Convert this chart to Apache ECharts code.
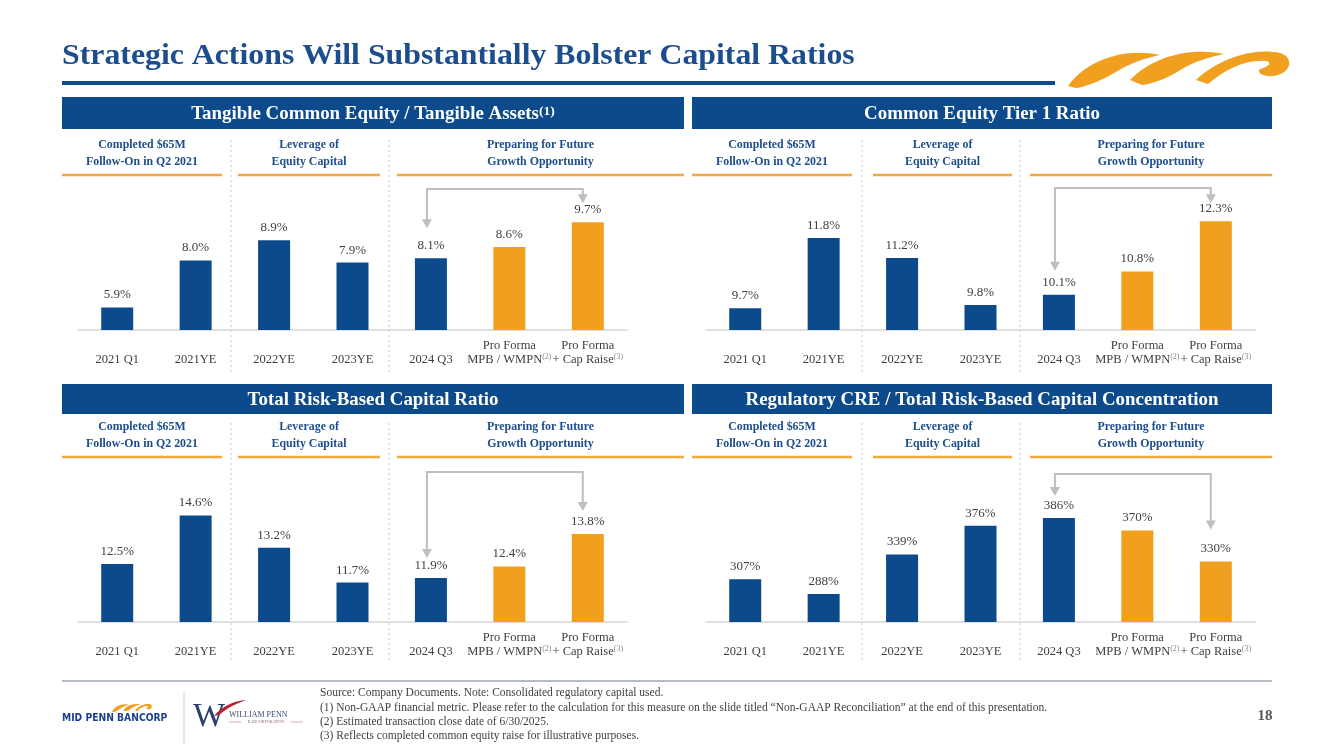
<!DOCTYPE html>
<html><head><meta charset="utf-8">
<script src="https://cdn.jsdelivr.net/npm/echarts@6/dist/echarts.min.js"></script>
<style>html,body{margin:0;padding:0;background:#fff}#c{width:1333px;height:749px}</style>
</head><body><div id="c"></div><script>
// ---------- data ----------
const categories = ['2021 Q1', '2021YE', '2022YE', '2023YE', '2024 Q3', 'Pro Forma\nMPB / WMPN', 'Pro Forma\n+ Cap Raise'];
const categorySup = ['', '', '', '', '', '(2)', '(3)'];
const tceValues = [5.9, 8.0, 8.9, 7.9, 8.1, 8.6, 9.7];
const cet1Values = [9.7, 11.8, 11.2, 9.8, 10.1, 10.8, 12.3];
const trbcValues = [12.5, 14.6, 13.2, 11.7, 11.9, 12.4, 13.8];
const creValues = [307, 288, 339, 376, 386, 370, 330];
const panelTitles = ['Tangible Common Equity / Tangible Assets', 'Common Equity Tier 1 Ratio', 'Total Risk-Based Capital Ratio', 'Regulatory CRE / Total Risk-Based Capital Concentration'];
const panelTitleSup = ['(1)', '', '', ''];
const phaseTitles = [['Completed $65M', 'Follow-On in Q2 2021'], ['Leverage of', 'Equity Capital'], ['Preparing for Future', 'Growth Opportunity']];
const pageTitle = 'Strategic Actions Will Substantially Bolster Capital Ratios';
const footnotes = [
  'Source: Company Documents. Note: Consolidated regulatory capital used.',
  '(1) Non-GAAP financial metric. Please refer to the calculation for this measure on the slide titled \u201cNon-GAAP Reconciliation\u201d at the end of this presentation.',
  '(2) Estimated transaction close date of 6/30/2025.',
  '(3) Reflects completed common equity raise for illustrative purposes.'
];
const pageNumber = '18';

// ---------- styles ----------
const NAVY = '#0D4A8C', ORANGE = '#F0A01E', TITLE = '#1C4E8D', GRAY = '#BFBFBF', TXT = '#3F3F3F';
const SERIF = '"Liberation Serif", "DejaVu Serif", serif';
const seriesValues = [tceValues, cet1Values, trbcValues, creValues];
const isPct = [true, true, true, false];

const grids = [
  {left: 78, top: 193, width: 549, height: 137},
  {left: 706, top: 191, width: 549, height: 139},
  {left: 78, top: 483, width: 549, height: 139},
  {left: 706, top: 484, width: 549, height: 138}
];
const yRanges = [[4.9, 11], [9.05, 13.2], [10, 16], [252, 430]];

const swooshPaths = [
  'M0,39 C18,14 55,0 92,8 C78,11 62,16 48,25 C32,34 18,40 8,41 Z',
  'M62,33 C85,10 120,0 156,7 C142,10 127,14 114,22 C100,31 85,37 74,38 Z',
  'M128,33 C150,12 185,0 212,6 C226,10 224,26 206,29 C196,30 188,26 192,22 C200,20 205,16 198,14 C178,12 158,22 140,37 Z'
];
const featherPath = 'M0,16 C8,6 20,1 32,0 C24,3 14,7 5,15 Z';
let shapeOK = true;
try {
  swooshPaths.forEach((d, i) => echarts.graphic.registerShape('swoosh' + i, echarts.graphic.extendPath(d)));
  echarts.graphic.registerShape('feather', echarts.graphic.extendPath(featherPath));
} catch (e) { shapeOK = false; }

const chart = echarts.init(document.getElementById('c'), null, {renderer: 'canvas'});

const xAxes = grids.map((g, i) => ({
  type: 'category', gridIndex: i, data: categories,
  axisLine: {lineStyle: {color: '#D6D6D6', width: 1.5}},
  axisTick: {show: false},
  axisLabel: {
    interval: 0, hideOverlap: false, fontFamily: SERIF, fontSize: 12.5, color: TXT,
    lineHeight: 14, verticalAlign: 'bottom', margin: 37, align: 'center',
    formatter: (v, idx) => v + (categorySup[idx] ? '{s|' + categorySup[idx] + '}' : ''),
    rich: {s: {fontSize: 8, color: '#8C8C8C', verticalAlign: 'top', lineHeight: 14, fontFamily: SERIF}}
  }
}));
const yAxes = grids.map((g, i) => ({type: 'value', gridIndex: i, min: yRanges[i][0], max: yRanges[i][1], show: false, splitLine: {show: false}}));
const series = seriesValues.map((vals, i) => ({
  type: 'bar', xAxisIndex: i, yAxisIndex: i, barWidth: 32,
  data: vals.map((v, k) => ({value: v, itemStyle: {color: k >= 5 ? ORANGE : NAVY}})),
  label: {show: true, position: 'top', distance: 6, fontFamily: SERIF, fontSize: 13, color: TXT,
    formatter: p => (isPct[i] ? p.value.toFixed(1) : String(p.value)) + '%'}
}));

// ---------- static graphics ----------
const G = [];
G.push({type: 'text', x: 62, y: 56, scaleX: 1.06, style: {text: pageTitle, font: 'bold 30px ' + SERIF, fill: TITLE, textVerticalAlign: 'middle'}});
G.push({type: 'rect', shape: {x: 62, y: 81, width: 993, height: 4}, style: {fill: NAVY}});
function swoosh(fill) {
  if (!shapeOK) return [];
  return swooshPaths.map((d, i) => ({type: 'swoosh' + i, shape: {}, style: {fill: fill}}));
}
G.push({type: 'group', x: 1068, y: 47, children: swoosh(ORANGE)});

const panels = [
  {x: 62, w: 622, bannerY: 97, bannerH: 32, subY: 143, lineY: 175, divTop: 140, divBot: 372,
   subs: [[62, 222], [238, 380], [397, 684]], divs: [231, 389]},
  {x: 692, w: 580, bannerY: 97, bannerH: 32, subY: 143, lineY: 175, divTop: 140, divBot: 372,
   subs: [[692, 852], [873, 1012], [1030, 1272]], divs: [862, 1020]},
  {x: 62, w: 622, bannerY: 384, bannerH: 30, subY: 425, lineY: 457, divTop: 423, divBot: 662,
   subs: [[62, 222], [238, 380], [397, 684]], divs: [231, 389]},
  {x: 692, w: 580, bannerY: 384, bannerH: 30, subY: 425, lineY: 457, divTop: 423, divBot: 662,
   subs: [[692, 852], [873, 1012], [1030, 1272]], divs: [862, 1020]}
];
panels.forEach((p, i) => {
  G.push({type: 'rect', shape: {x: p.x, y: p.bannerY, width: p.w, height: p.bannerH}, style: {fill: NAVY}});
  G.push({type: 'text', x: p.x + p.w / 2, y: p.bannerY + p.bannerH / 2 + 1, scaleX: 1.05, style: {
    text: panelTitles[i] + (panelTitleSup[i] ? '{s|' + panelTitleSup[i] + '}' : ''),
    font: 'bold 18px ' + SERIF, fill: '#fff', textAlign: 'center', textVerticalAlign: 'middle',
    rich: {s: {fontSize: 13, fontWeight: 'bold', fill: '#fff', fontFamily: SERIF, verticalAlign: 'top'}}}});
  p.subs.forEach((s, k) => {
    const cx = (s[0] + s[1]) / 2;
    G.push({type: 'text', x: cx, y: p.subY + 2, scaleX: 0.88, style: {text: phaseTitles[k][0], font: 'bold 13.5px ' + SERIF, fill: TITLE, textAlign: 'center', textVerticalAlign: 'middle'}});
    G.push({type: 'text', x: cx, y: p.subY + 19, scaleX: 0.88, style: {text: phaseTitles[k][1], font: 'bold 13.5px ' + SERIF, fill: TITLE, textAlign: 'center', textVerticalAlign: 'middle'}});
    G.push({type: 'line', shape: {x1: s[0], y1: p.lineY, x2: s[1], y2: p.lineY}, style: {stroke: '#F2A93B', lineWidth: 2.5}});
  });
  p.divs.forEach(dx => {
    G.push({type: 'line', shape: {x1: dx, y1: p.divTop, x2: dx, y2: p.divBot}, style: {stroke: '#C8C8C8', lineWidth: 1, lineDash: [2, 3]}});
  });
});

// footer
G.push({type: 'line', shape: {x1: 62, y1: 681, x2: 1272, y2: 681}, style: {stroke: '#6F7C8C', lineWidth: 1.2}});
G.push({type: 'group', x: 112, y: 703, scaleX: 0.18, scaleY: 0.22, children: swoosh(ORANGE)});
G.push({type: 'text', x: 62, y: 718, scaleX: 0.92, style: {text: 'MID PENN BANCORP', font: 'bold 10px "DejaVu Sans", sans-serif', fill: '#1D3F8E', textVerticalAlign: 'middle'}});
G.push({type: 'line', shape: {x1: 184, y1: 692, x2: 184, y2: 745}, style: {stroke: '#D0D0D0', lineWidth: 1}});
G.push({type: 'text', x: 193, y: 717, style: {text: 'W', font: '34px ' + SERIF, fill: '#2B3E6E', textVerticalAlign: 'middle'}});
if (shapeOK) G.push({type: 'feather', x: 214, y: 700, shape: {}, style: {fill: '#B52332'}});
G.push({type: 'text', x: 229, y: 715, style: {text: 'WILLIAM PENN', font: '8px ' + SERIF, fill: '#3D4C70', textVerticalAlign: 'middle'}});
G.push({type: 'line', shape: {x1: 229, y1: 722, x2: 241, y2: 722}, style: {stroke: '#C86A72', lineWidth: 0.6}});
G.push({type: 'text', x: 266, y: 722, style: {text: 'BANCORPORATION', font: '4px ' + SERIF, fill: '#8A6A72', textAlign: 'center', textVerticalAlign: 'middle'}});
G.push({type: 'line', shape: {x1: 291, y1: 722, x2: 303, y2: 722}, style: {stroke: '#C86A72', lineWidth: 0.6}});
const fnY = [693, 708, 722, 736];
footnotes.forEach((t, i) => G.push({type: 'text', x: 320, y: fnY[i], style: {text: t, font: '11.5px ' + SERIF, fill: TXT, textVerticalAlign: 'middle'}}));
G.push({type: 'text', x: 1265, y: 716, style: {text: pageNumber, font: 'bold 15px ' + SERIF, fill: '#595959', textAlign: 'center', textVerticalAlign: 'middle'}});

chart.setOption({
  animation: false,
  grid: grids,
  xAxis: xAxes,
  yAxis: yAxes,
  series: series,
  graphic: G
});

// ---------- arrows computed from the scales ----------
const arrowSpecs = [
  {grid: 0, from: 4, to: 6, topY: 189, offL: 30, offR: 19},
  {grid: 1, from: 4, to: 6, topY: 188, offL: 24, offR: 18},
  {grid: 2, from: 4, to: 6, topY: 472, offL: 20, offR: 23},
  {grid: 3, from: 4, to: 6, topY: 474, offL: 22, offR: 32}
];
const A = [];
arrowSpecs.forEach(a => {
  const vals = seriesValues[a.grid];
  const pl = chart.convertToPixel({gridIndex: a.grid}, [a.from, vals[a.from]]);
  const pr = chart.convertToPixel({gridIndex: a.grid}, [a.to, vals[a.to]]);
  const xl = pl[0] - 4, xr = pr[0] - 5;
  const tl = pl[1] - a.offL, tr = pr[1] - a.offR;
  A.push({type: 'polyline', shape: {points: [[xl, tl - 8], [xl, a.topY], [xr, a.topY], [xr, tr - 8]]}, style: {stroke: GRAY, lineWidth: 2, fill: null}});
  A.push({type: 'polygon', shape: {points: [[xl - 5, tl - 9], [xl + 5, tl - 9], [xl, tl]]}, style: {fill: GRAY}});
  A.push({type: 'polygon', shape: {points: [[xr - 5, tr - 9], [xr + 5, tr - 9], [xr, tr]]}, style: {fill: GRAY}});
});
chart.setOption({graphic: G.concat(A)});
</script></body></html>
